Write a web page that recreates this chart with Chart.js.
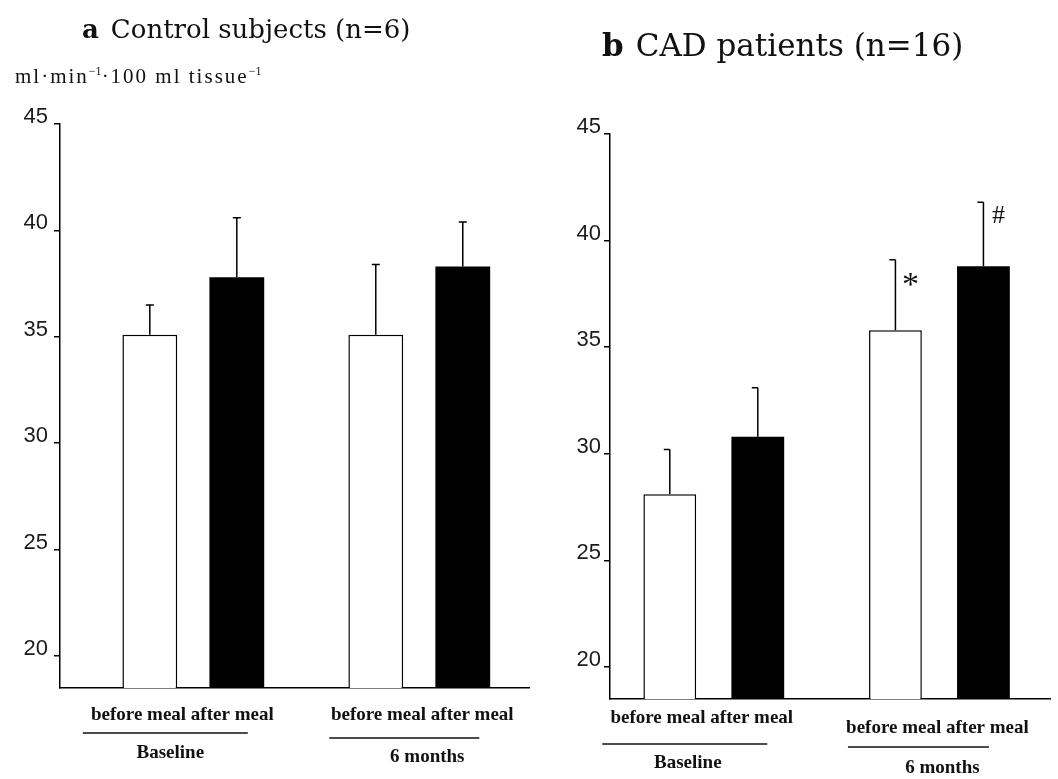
<!DOCTYPE html>
<html>
<head>
<meta charset="utf-8">
<script src="https://cdn.jsdelivr.net/npm/chart.js@4.4.1/dist/chart.umd.min.js"></script>
<style>
  body { margin: 0; background: #fff; width: 1058px; height: 779px; position: relative; overflow: hidden; font-family: "Liberation Serif", serif; color: #111; }
  .panel { position: absolute; top: 0; height: 779px; }
  #left { left: 0; width: 530px; }
  #right { left: 530px; width: 528px; }
  .title { position: absolute; white-space: nowrap; font-family: "DejaVu Serif", serif; font-weight: normal; }
  .title b { margin-right: 12px; }
  #titleA { left: 82px; top: 12px; font-size: 26px; line-height: 34px; }
  #titleB { left: 602px; top: 25px; font-size: 31px; line-height: 40px; }
  #unit { position: absolute; left: 15px; top: 64px; font-size: 21px; letter-spacing: 2px; white-space: nowrap; }
  #unit sup { font-size: 12px; letter-spacing: 0; }
</style>
</head>
<body>
<div class="panel" id="left"><canvas id="chartA"></canvas></div>
<div class="panel" id="right"><canvas id="chartB"></canvas></div>
<div class="title" id="titleA"><b>a</b>Control subjects (n=6)</div>
<div class="title" id="titleB"><b>b</b>CAD patients (n=16)</div>
<div id="unit">ml·min<sup>−1</sup>·100 ml tissue<sup>−1</sup></div>

<script>
const groups = ['Baseline', '6 months'];
const mealLabel = 'before meal after meal';
const yTicks = [20, 25, 30, 35, 40, 45];

// a: control subjects
const ctrlBefore = [35.1, 35.1];
const ctrlAfter = [37.8, 38.3];
const ctrlBeforeSd = [1.4, 3.3];
const ctrlAfterSd = [2.8, 2.1];

// b: CAD patients
const cadBefore = [28.1, 35.8];
const cadAfter = [30.8, 38.8];
const cadBeforeSd = [2.1, 3.3];
const cadAfterSd = [2.3, 3.0];
const cadBeforeMarks = ['', '*'];
const cadAfterMarks = ['', '#'];

// font and baseline drop (below the cap) for the significance marks
const markStyle = {
    '*': { font: '34px "Liberation Serif"', dy: 35 },
    '#': { font: '26px "Liberation Serif"', dy: 21 }
};

// upward error bars (+ significance marks) drawn on top of the bars
const errorBars = {
    id: 'errorBars',
    afterDatasetsDraw(chart, args, opts) {
        const ctx = chart.ctx;
        const y = chart.scales.y;
        chart.data.datasets.forEach((ds, i) => {
            chart.getDatasetMeta(i).data.forEach((bar, j) => {
                const top = y.getPixelForValue(ds.data[j] + ds.sd[j]);
                ctx.save();
                ctx.strokeStyle = '#000';
                ctx.lineWidth = 1.5;
                ctx.beginPath();
                ctx.moveTo(bar.x, bar.y);
                ctx.lineTo(bar.x, top);
                ctx.moveTo(bar.x - opts.capLeft, top);
                ctx.lineTo(bar.x + opts.capRight, top);
                ctx.stroke();
                const m = ds.marks && ds.marks[j];
                if (m) {
                    ctx.fillStyle = '#111';
                    ctx.font = markStyle[m].font;
                    ctx.textAlign = 'center';
                    ctx.textBaseline = 'alphabetic';
                    ctx.fillText(m, bar.x + 15, top + markStyle[m].dy);
                }
                ctx.restore();
            });
        });
    }
};

// "before meal after meal" / rule / group name under each pair
const groupLabels = {
    id: 'groupLabels',
    afterDraw(chart, args, opts) {
        const ctx = chart.ctx;
        const x = chart.scales.x;
        const b = chart.chartArea.bottom;
        ctx.save();
        ctx.fillStyle = '#111';
        ctx.strokeStyle = '#111';
        ctx.textAlign = 'center';
        ctx.textBaseline = 'middle';
        ctx.font = 'bold 19px "Liberation Serif"';
        groups.forEach((g, i) => {
            const gx = x.getPixelForValue(i + 1);
            const p = opts.place[i];
            ctx.fillText(mealLabel, gx + p.tx, b + p.ty);
            ctx.lineWidth = 1.5;
            ctx.beginPath();
            ctx.moveTo(gx + p.lx - p.lw / 2, b + p.ly);
            ctx.lineTo(gx + p.lx + p.lw / 2, b + p.ly);
            ctx.stroke();
            ctx.fillText(g, gx + p.nx, b + p.ny);
        });
        ctx.restore();
    }
};

function makePanel(id, before, after, beforeSd, afterSd, beforeMarks, afterMarks, lay) {
    return new Chart(document.getElementById(id), {
        type: 'bar',
        data: {
            labels: groups.map((g, i) => i + 1),
            datasets: [{
                label: 'before meal',
                data: before,
                sd: beforeSd,
                marks: beforeMarks,
                backgroundColor: '#fff',
                borderColor: '#000',
                borderWidth: 1.5,
                borderSkipped: 'bottom'
            }, {
                label: 'after meal',
                data: after,
                sd: afterSd,
                marks: afterMarks,
                backgroundColor: '#000',
                borderWidth: 0
            }]
        },
        options: {
            responsive: true,
            maintainAspectRatio: false,
            animation: false,
            categoryPercentage: lay.catPct,
            barPercentage: lay.barPct,
            layout: { padding: lay.padding },
            plugins: {
                legend: { display: false },
                tooltip: { enabled: false },
                errorBars: { capLeft: lay.capLeft, capRight: lay.capRight },
                groupLabels: { place: lay.place }
            },
            scales: {
                x: {
                    type: 'linear',
                    min: lay.xMin,
                    max: lay.xMax,
                    offset: false,
                    afterFit: s => { s.height = 0; },
                    // one tick per group so the bar width comes from the group spacing
                    afterBuildTicks: s => { s.ticks = groups.map((g, i) => ({ value: i + 1 })); },
                    ticks: { display: false },
                    grid: { display: false },
                    border: { color: '#000', width: 1.5 }
                },
                y: {
                    min: 18.5,
                    max: 45,
                    afterFit: s => { s.width = lay.axisW; },
                    afterBuildTicks: s => { s.ticks = yTicks.map(v => ({ value: v })); },
                    grid: { drawOnChartArea: false, tickLength: 6, color: '#000', lineWidth: 1.5 },
                    border: { color: '#000', width: 1.5 },
                    ticks: {
                        color: '#1a1a1a',
                        font: { family: 'Liberation Sans', size: 22 },
                        padding: lay.tickPad,
                        labelOffset: -7
                    }
                }
            }
        },
        plugins: [errorBars, groupLabels]
    });
}

makePanel('chartA', ctrlBefore, ctrlAfter, ctrlBeforeSd, ctrlAfterSd, null, null, {
    axisW: 60, tickPad: 6, xMin: 0.41, xMax: 2.49,
    catPct: 0.77, barPct: 0.63, capLeft: 4, capRight: 4,
    padding: { top: 124, bottom: 91, right: 0 },
    place: [
        { tx: -11, ty: 27, lx: -28, lw: 165, ly: 45, nx: -23, ny: 65 },
        { tx: 3, ty: 27, lx: -15, lw: 150, ly: 50, nx: 8, ny: 69 }
    ]
});

makePanel('chartB', cadBefore, cadAfter, cadBeforeSd, cadAfterSd, cadBeforeMarks, cadAfterMarks, {
    axisW: 80, tickPad: 3, xMin: 0.54, xMax: 2.49,
    catPct: 0.78, barPct: 0.6, capLeft: 6, capRight: 0,
    padding: { top: 134, bottom: 80, right: 8 },
    place: [
        { tx: -12, ty: 19, lx: -29, lw: 165, ly: 45, nx: -26, ny: 64 },
        { tx: -2, ty: 29, lx: -21, lw: 141, ly: 48, nx: 3, ny: 69 }
    ]
});
</script>
</body>
</html>
